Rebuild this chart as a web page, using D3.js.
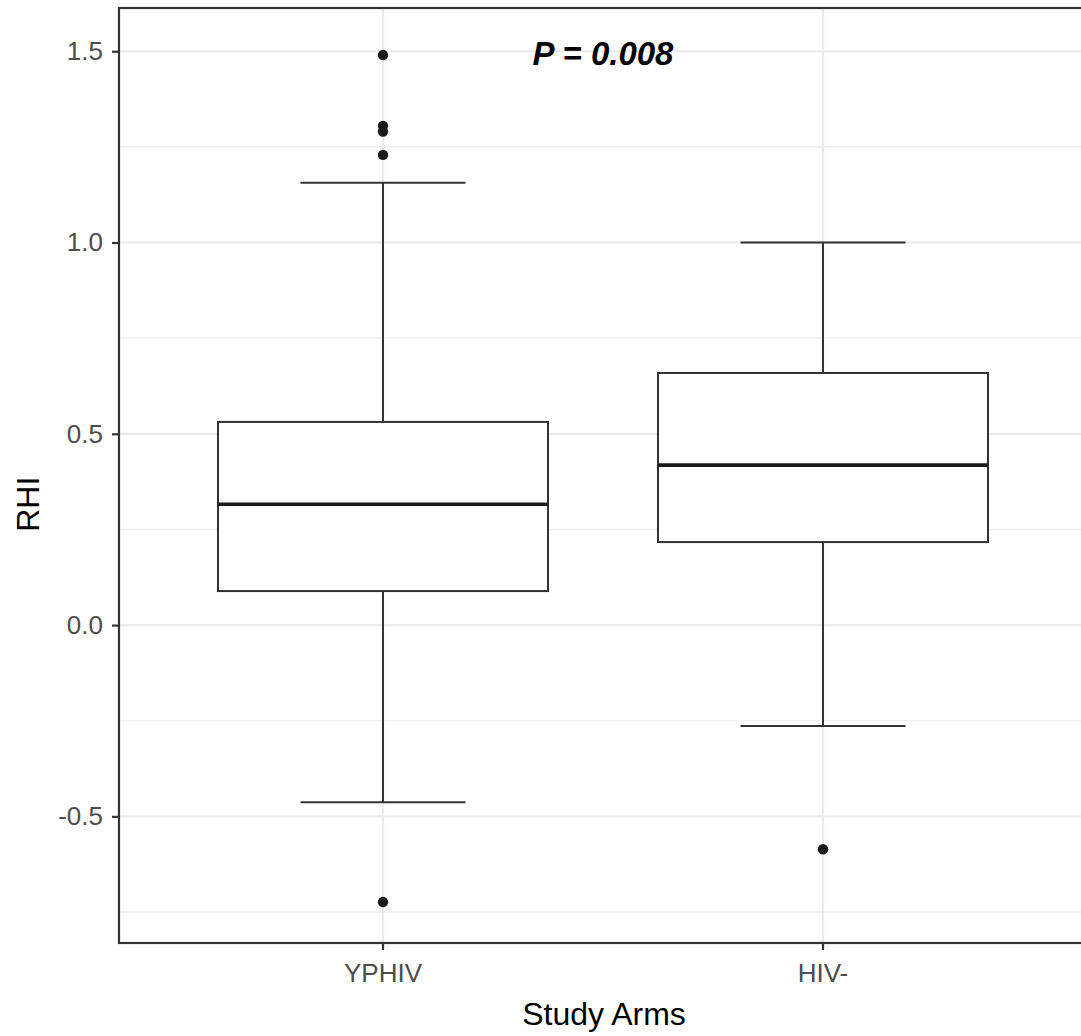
<!DOCTYPE html>
<html>
<head>
<meta charset="utf-8">
<script src="https://cdn.jsdelivr.net/npm/d3@7"></script>
<style>
  html, body { margin: 0; background: #fff; overflow: hidden; }
  svg { display: block; }
  text { font-family: "Liberation Sans", Arial, sans-serif; }
</style>
</head>
<body>
<div id="chart"></div>
<script>
// data
const arms = ["YPHIV", "HIV-"];
const lowerWhisker = [-0.463, -0.264];
const q1 = [0.089, 0.217];
const median = [0.316, 0.418];
const q3 = [0.531, 0.659];
const upperWhisker = [1.156, 1.0];
const outliers = [
  [1.49, 1.305, 1.29, 1.229, -0.724],
  [-0.586]
];
const yTicks = [-0.5, 0.0, 0.5, 1.0, 1.5];
const yMinor = [-0.75, -0.25, 0.25, 0.75, 1.25];
const pLabel = "P = 0.008";

var w = 1081;
var h = 1036;

// panel runs a little past the right edge, as in the original crop
var margin = { top: 8, left: 119, right: -6, bottom: 93 };
var width = w - margin.left - margin.right;
var height = h - margin.top - margin.bottom;

var svg = d3.select("#chart").append("svg")
  .attr("width", w)
  .attr("height", h);

var chart = svg.append("g")
  .attr("transform", "translate(" + margin.left + "," + margin.top + ")");

///////////////////////////// Scales

// ggplot-style discrete scale: expand 0.6 on each side of 1..2
var x = d3.scaleLinear()
  .domain([0.4, 2.6])
  .range([0, width]);
var cx = function (i) { return x(i + 1); };
var step = x(2) - x(1);

var y = d3.scaleLinear()
  .domain([-0.831, 1.613])
  .range([height, 0]);

///////////////////////////// Grid

chart.selectAll(".minor")
  .data(yMinor)
  .enter().append("line")
  .attr("x1", 0).attr("x2", width)
  .attr("y1", d => y(d)).attr("y2", d => y(d))
  .attr("stroke", "#ebebeb").attr("stroke-width", 1.2);

chart.selectAll(".major")
  .data(yTicks)
  .enter().append("line")
  .attr("x1", 0).attr("x2", width)
  .attr("y1", d => y(d)).attr("y2", d => y(d))
  .attr("stroke", "#ebebeb").attr("stroke-width", 2.2);

chart.selectAll(".vmajor")
  .data(arms)
  .enter().append("line")
  .attr("x1", (d, i) => cx(i)).attr("x2", (d, i) => cx(i))
  .attr("y1", 0).attr("y2", height)
  .attr("stroke", "#ebebeb").attr("stroke-width", 2.2);

///////////////////////////// Boxes

var boxW = step * 0.75;
var capW = step * 0.375;

arms.forEach(function (arm, i) {
  var g = chart.append("g").attr("class", "box");
  var c = cx(i);

  // whiskers
  g.append("line")
    .attr("x1", c).attr("x2", c)
    .attr("y1", y(q3[i])).attr("y2", y(upperWhisker[i]))
    .attr("stroke", "#333").attr("stroke-width", 2);
  g.append("line")
    .attr("x1", c).attr("x2", c)
    .attr("y1", y(q1[i])).attr("y2", y(lowerWhisker[i]))
    .attr("stroke", "#333").attr("stroke-width", 2);

  // caps
  [upperWhisker[i], lowerWhisker[i]].forEach(function (v) {
    g.append("line")
      .attr("x1", c - capW / 2).attr("x2", c + capW / 2)
      .attr("y1", y(v)).attr("y2", y(v))
      .attr("stroke", "#333").attr("stroke-width", 2);
  });

  g.append("rect")
    .attr("x", c - boxW / 2)
    .attr("width", boxW)
    .attr("y", y(q3[i]))
    .attr("height", y(q1[i]) - y(q3[i]))
    .attr("fill", "#fff")
    .attr("stroke", "#333")
    .attr("stroke-width", 2);

  g.append("line")
    .attr("x1", c - boxW / 2).attr("x2", c + boxW / 2)
    .attr("y1", y(median[i])).attr("y2", y(median[i]))
    .attr("stroke", "#1a1a1a").attr("stroke-width", 3.6);

  g.selectAll("circle")
    .data(outliers[i])
    .enter().append("circle")
    .attr("cx", c)
    .attr("cy", d => y(d))
    .attr("r", 5.2)
    .attr("fill", "#1a1a1a");
});

///////////////////////////// Border + axes

chart.append("rect")
  .attr("x", 0).attr("y", 0)
  .attr("width", width).attr("height", height)
  .attr("fill", "none")
  .attr("stroke", "#333")
  .attr("stroke-width", 2.2);

var yAxis = chart.append("g")
  .call(d3.axisLeft(y).tickValues(yTicks).tickSize(7).tickPadding(9));
yAxis.select(".domain").remove();
yAxis.selectAll("line").attr("stroke", "#333").attr("stroke-width", 2.2);
yAxis.selectAll("text")
  .attr("fill", "#4d4d4d")
  .style("font-size", "26px")
  .text(d => d < 0 ? "-" + Math.abs(d).toFixed(1) : d.toFixed(1));

var xAxis = chart.append("g")
  .attr("transform", "translate(0," + height + ")");
arms.forEach(function (arm, i) {
  xAxis.append("line")
    .attr("x1", cx(i)).attr("x2", cx(i))
    .attr("y1", 0).attr("y2", 7)
    .attr("stroke", "#333").attr("stroke-width", 2.2);
  xAxis.append("text")
    .attr("x", cx(i))
    .attr("y", 39)
    .attr("text-anchor", "middle")
    .attr("fill", "#4d4d4d")
    .style("font-size", "26px")
    .text(arm);
});

///////////////////////////// Titles

svg.append("text")
  .attr("x", 604)
  .attr("y", 1025)
  .attr("text-anchor", "middle")
  .attr("fill", "#000")
  .style("font-size", "32px")
  .text("Study Arms");

svg.append("text")
  .attr("transform", "translate(39," + (margin.top + y(0.316)) + ") rotate(-90)")
  .attr("text-anchor", "middle")
  .attr("fill", "#000")
  .style("font-size", "32px")
  .text("RHI");

chart.append("text")
  .attr("x", 603 - margin.left)
  .attr("y", 65 - margin.top)
  .attr("text-anchor", "middle")
  .attr("fill", "#000")
  .style("font-size", "33px")
  .style("font-weight", "bold")
  .style("font-style", "italic")
  .text(pLabel);
</script>
</body>
</html>
